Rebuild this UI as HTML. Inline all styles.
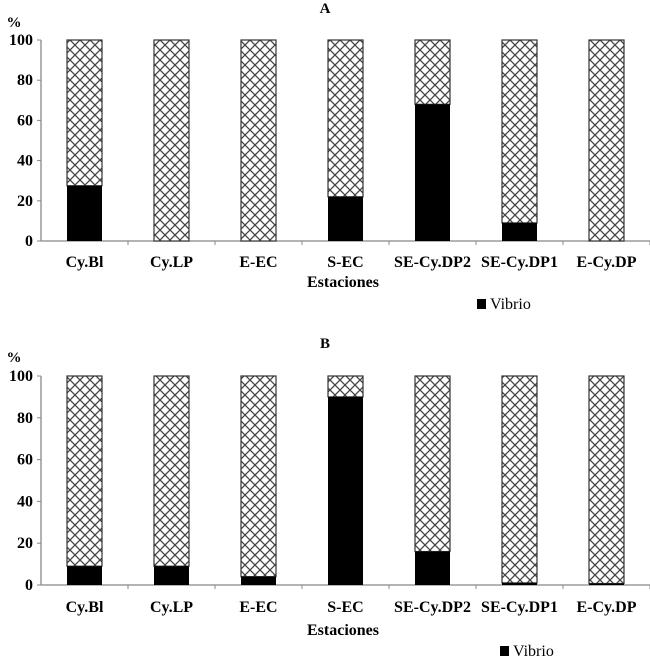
<!DOCTYPE html>
<html><head><meta charset="utf-8"><style>
html,body{margin:0;padding:0;background:#fff;}
svg{display:block;font-family:"Liberation Serif",serif;}
.tk{font-size:16px;font-weight:bold;}
</style></head><body>
<svg id="c" width="650" height="658" viewBox="0 0 650 658" xmlns="http://www.w3.org/2000/svg">
<defs>
<pattern id="hatch" width="10" height="10" patternUnits="userSpaceOnUse">
<rect width="10" height="10" fill="#fff"/>
<path d="M0,0 L10,10 M10,0 L0,10" stroke="#444" stroke-width="1.3"/>
</pattern>
</defs>
</svg>
<script>
const categories=["Cy.Bl","Cy.LP","E-EC","S-EC","SE-Cy.DP2","SE-Cy.DP1","E-Cy.DP"];
const vibrioA=[27.5,0,0,22,68,9,0];
const vibrioB=[9,9,4,90,16,1,0.7];
const yTicks=[0,20,40,60,80,100];
const svg=document.getElementById('c');
const NS="http://www.w3.org/2000/svg";
function mk(tag,attrs,parent){const e=document.createElementNS(NS,tag);for(const k in attrs)e.setAttribute(k,attrs[k]);(parent||svg).appendChild(e);return e;}
function panel(title,vals,top0,y100,y0,titleY,pctY,labY,estY,legX,legY,key){
  const g=mk('g',{});
  
  
  const x0=41,x1=650,cw=(x1-x0)/categories.length,bw=35;
  const y=v=>y0-(v/100)*(y0-y100);
  const xc=i=>x0+cw*(i+0.5);
  const t=mk('text',{x:325,y:titleY,'text-anchor':'middle','font-size':15,'font-weight':'bold'},g);t.textContent=title;
  
  
  const p=mk('text',{x:14,y:pctY,'text-anchor':'middle','font-size':15,'font-weight':'bold'},g);p.textContent='%';
  
  
  mk('line',{x1:x0,y1:y100,x2:x0,y2:y0,stroke:'#888','stroke-width':1.3},g);
  mk('line',{x1:x0,y1:y0,x2:x1,y2:y0,stroke:'#888','stroke-width':1.3},g);
  yTicks.forEach(v=>{
    mk('line',{x1:x0-4,y1:y(v),x2:x0,y2:y(v),stroke:'#888'},g);
    const l=mk('text',{x:x0-8,y:y(v)+5,'text-anchor':'end',class:'tk'},g);l.textContent=v;
    
    
  });
  categories.forEach((c,i)=>{
    mk('line',{x1:x0+cw*(i+1),y1:y0,x2:x0+cw*(i+1),y2:y0+4,stroke:'#888'},g);
    const h=mk('rect',{x:xc(i)-bw/2,y:y(100),width:bw,height:y(vals[i])-y(100),fill:'url(#hatch)',stroke:'#333','stroke-width':1.2},g);
    
    
    if(vals[i]>0){
      const b=mk('rect',{x:xc(i)-bw/2,y:y(vals[i]),width:bw,height:y0-y(vals[i]),fill:'#000'},g);
      
      
    }
    const l=mk('text',{x:xc(i),y:labY,'text-anchor':'middle',class:'tk'},g);l.textContent=c;
    
    
  });
  const e=mk('text',{x:343,y:estY,'text-anchor':'middle',class:'tk'},g);e.textContent='Estaciones';
  
  
  const lg=mk('g',{},g);
  
  
  mk('rect',{x:legX,y:legY-10,width:9,height:10,fill:'#000'},lg);
  const lt=mk('text',{x:legX+13,y:legY,'font-size':16},lg);lt.textContent='Vibrio';
}
panel('A',vibrioA,0,40,241,13,27,267,287,477,309,'a');
panel('B',vibrioB,0,376,585,348,362,612,635,500,656,'b');
</script>
</body></html>
